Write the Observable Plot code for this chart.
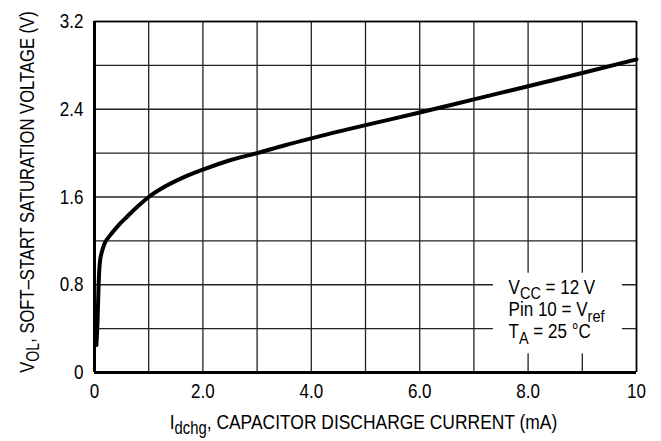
<!DOCTYPE html>
<html><head><meta charset="utf-8">
<script src="https://cdn.jsdelivr.net/npm/d3@7"></script>
<script src="https://cdn.jsdelivr.net/npm/@observablehq/plot@0.6"></script>
<style>
body{margin:0;background:#fff}
#chart svg{font-family:"Liberation Sans",Arial,sans-serif}
</style></head><body><div id="chart"></div>
<script>
// Discharge current (mA) vs soft-start saturation voltage (V)
const current = [0.035, 0.058, 0.076, 0.09, 0.106, 0.136, 0.19, 0.28, 0.43, 0.6, 0.8, 1.0, 1.3, 1.6, 2.0, 2.5, 3.0, 3.5, 4.0, 5.0, 6.0, 7.0, 8.0, 9.0, 10.0];
const voltage = [0.25, 0.50, 0.80, 0.95, 1.03, 1.10, 1.18, 1.245, 1.335, 1.42, 1.515, 1.6, 1.695, 1.77, 1.85, 1.935, 2.0, 2.07, 2.135, 2.255, 2.37, 2.49, 2.61, 2.73, 2.855];

const xGridValues = [0,1,2,3,4,5,6,7,8,9,10];
const yGridValues = [0,0.4,0.8,1.2,1.6,2.0,2.4,2.8,3.2];
const xTickValues = [0,2,4,6,8,10];
const xTickLabels = ["0","2.0","4.0","6.0","8.0","10"];
const yTickValues = [0,0.8,1.6,2.4,3.2];
const yTickLabels = ["0","0.8","1.6","2.4","3.2"];

// rich-text segments: [text, isSubscript]
const xTitle = [["I",0],["dchg",1],[", CAPACITOR DISCHARGE CURRENT (mA)",0]];
const yTitle = [["V",0],["OL",1],[", SOFT\u2013START SATURATION VOLTAGE (V)",0]];
const notes = [
  [["V",0],["CC",1],[" = 12 V",0]],
  [["Pin 10 = V",0],["ref",1]],
  [["T",0],["A",1],[" = 25 \u00B0C",0]]
];

const data = current.map((c,i)=>({c, v: voltage[i]}));
const plain = segs => segs.map(s=>s[0]).join("");

const noteX = 7.64, noteYs = [0.78, 0.575, 0.375];
const box = [{x1: 7.36, x2: 9.74, y1: 0.17, y2: 0.905}];

const FS = 20.5;
const plot = Plot.plot({
  width: 661, height: 441,
  marginLeft: 94, marginRight: 25, marginTop: 21, marginBottom: 69,
  x: {domain: [0,10]},
  y: {domain: [0,3.2]},
  style: {fontSize: FS + "px", color: "#000", background: "#fff"},
  marks: [
    Plot.ruleX(xGridValues, {stroke: "#222", strokeWidth: 1.3}),
    Plot.ruleY(yGridValues, {stroke: "#222", strokeWidth: 1.3}),
    Plot.rect(box, {x1: "x1", x2: "x2", y1: "y1", y2: "y2", fill: "white"}),
    Plot.ruleX([10], {stroke: "#000", strokeWidth: 1.6}),
    Plot.ruleY([3.2], {stroke: "#000", strokeWidth: 1.6}),
    Plot.ruleX([0], {stroke: "#000", strokeWidth: 3}),
    Plot.ruleY([0], {stroke: "#000", strokeWidth: 3}),
    Plot.line(data, {x: "c", y: "v", stroke: "#000", strokeWidth: 4, curve: "monotone-x"}),
    Plot.axisX(xTickValues, {tickSize: 0, tickPadding: 11, label: null, fontSize: FS,
      tickFormat: d => xTickLabels[xTickValues.indexOf(d)]}),
    Plot.axisY(yTickValues, {tickSize: 0, tickPadding: 11, label: null, fontSize: FS,
      tickFormat: d => yTickLabels[yTickValues.indexOf(d)]}),
    Plot.text(notes.map((n,i)=>i), {x: noteX, y: i => noteYs[i], text: i => plain(notes[i]),
      textAnchor: "start", lineAnchor: "middle", fontSize: FS, fill: "#000", className: "notes"}),
    Plot.text([0], {frameAnchor: "bottom", text: () => plain(xTitle), dx: -2, dy: 56,
      textAnchor: "middle", lineAnchor: "bottom", fontSize: 21, fill: "#000", className: "xtitle"}),
    Plot.text([0], {frameAnchor: "left", text: () => plain(yTitle), dx: -61, dy: -5, rotate: -90,
      textAnchor: "middle", lineAnchor: "bottom", fontSize: 21, fill: "#000", className: "ytitle"})
  ]
});

function rich(textEl, segs) {
  const t = d3.select(textEl);
  t.text(null);
  let sub = false;
  segs.forEach(([s, isSub]) => {
    const ts = t.append("tspan").text(s);
    if (isSub && !sub) { ts.attr("dy", "0.32em").attr("font-size", "85%"); sub = true; }
    else if (isSub) { ts.attr("font-size", "85%"); }
    else if (!isSub && sub) { ts.attr("dy", "-0.27em"); sub = false; }
  });
}
const svg = d3.select(plot);
svg.selectAll(".notes text").each(function(d, i) { rich(this, notes[i]); });
svg.selectAll(".xtitle text").each(function() { rich(this, xTitle); });
svg.selectAll(".ytitle text").each(function() { rich(this, yTitle); });

document.getElementById("chart").appendChild(plot);

// condense the sans-serif to match the narrow face of the original
svg.selectAll("text").each(function() {
  const L = this.getComputedTextLength();
  const k = this.closest(".ytitle") ? 0.79 : 0.83;
  if (L > 0) {
    this.setAttribute("textLength", (L * k).toFixed(2));
    this.setAttribute("lengthAdjust", "spacingAndGlyphs");
  }
});
</script></body></html>
